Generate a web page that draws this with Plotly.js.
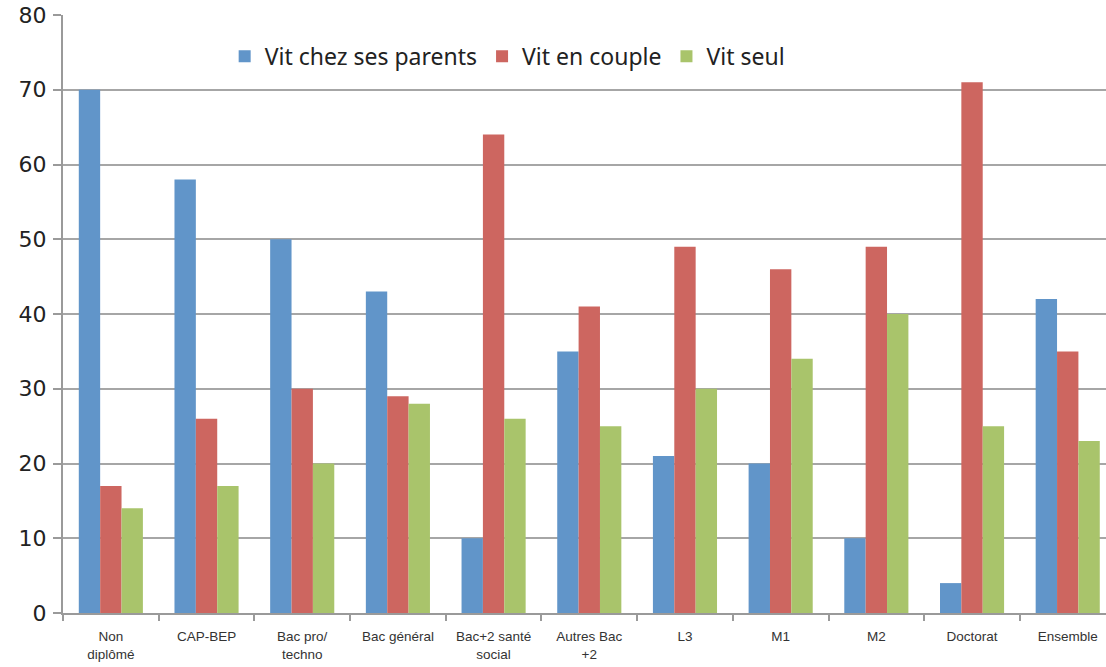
<!DOCTYPE html>
<html>
<head>
<meta charset="utf-8">
<script src="https://cdn.plot.ly/plotly-3.0.1.min.js"></script>
<style>html,body{margin:0;padding:0;background:#fff;}#chart{width:1106px;height:667px;}</style>
</head>
<body>
<div id="chart"></div>
<script>
const categories = ["Non<br>diplômé", "CAP-BEP", "Bac pro/<br>techno", "Bac général", "Bac+2 santé<br>social", "Autres Bac<br>+2", "L3", "M1", "M2", "Doctorat", "Ensemble"];
const seriesNames = ["Vit chez ses parents", "Vit en couple", "Vit seul"];
const parents = [70, 58, 50, 43, 10, 35, 21, 20, 10, 4, 42];
const couple = [17, 26, 30, 29, 64, 41, 49, 46, 49, 71, 35];
const seul = [14, 17, 20, 28, 26, 25, 30, 34, 40, 25, 23];
const colors = ["#6195c9", "#cd6660", "#a9c46b"];

const data = [parents, couple, seul].map((vals, i) => ({
  type: "bar",
  name: seriesNames[i],
  x: categories,
  y: vals,
  marker: {color: colors[i]},
  hoverinfo: "x+y+name"
}));

const layout = {
  width: 1106, height: 667,
  margin: {l: 63, r: 0, t: 15, b: 54},
  paper_bgcolor: "#fff", plot_bgcolor: "#fff",
  bargap: 0.33, bargroupgap: 0,
  showlegend: true,
  legend: {
    orientation: "h", x: 0.155, y: 0.931, xanchor: "left", yanchor: "middle",
    font: {family: "Noto Sans, DejaVu Sans, sans-serif", size: 23, color: "#222"},
    bgcolor: "rgba(0,0,0,0)", itemwidth: 30, tracegroupgap: 0
  },
  xaxis: {
    type: "category", range: [-0.5, 10.4],
    tickson: "boundaries", ticks: "outside", ticklen: 6, tickwidth: 2, tickcolor: "#9a9a9a",
    showline: true, linecolor: "#9a9a9a", linewidth: 2,
    showgrid: false,
    ticklabelstandoff: 10,
    tickfont: {family: "Liberation Sans, Arial, sans-serif", size: 13.5, color: "#333"},
    tickangle: 0, automargin: false, fixedrange: true
  },
  yaxis: {
    range: [0, 80], dtick: 10, tick0: 0,
    ticks: "outside", ticklen: 8, tickwidth: 2, tickcolor: "#9a9a9a",
    showline: true, linecolor: "#9a9a9a", linewidth: 2,
    showgrid: true, gridcolor: "#a6a6a6", gridwidth: 2,
    zeroline: false,
    ticklabelstandoff: 2,
    tickfont: {family: "DejaVu Sans, Verdana, sans-serif", size: 22, color: "#222"},
    automargin: false, fixedrange: true
  }
};

Plotly.newPlot("chart", data, layout, {displayModeBar: false, staticPlot: true});
</script>
</body>
</html>
